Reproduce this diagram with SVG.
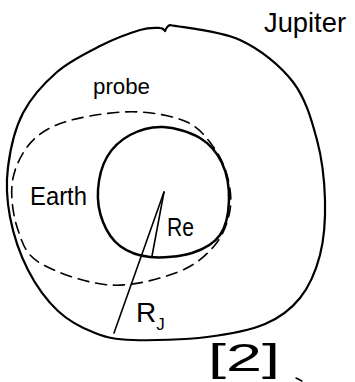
<svg xmlns="http://www.w3.org/2000/svg" width="355" height="382" viewBox="0 0 355 382">
<style>
.ln{fill:none;stroke:#000;stroke-linecap:round;stroke-linejoin:round}
.lbl{font-family:"Liberation Sans",Arial,sans-serif;fill:#000}
</style>
<rect width="355" height="382" fill="#fff"/>
<g id="jupiter">
<path class="ln" stroke-width="2.2" d="M170,25 C181.7,27.5 219.5,30.5 240,40 C260.5,49.5 280.2,65.3 293,82 C305.8,98.7 311.7,120.3 317,140 C322.3,159.7 324.5,180.8 325,200 C325.5,219.2 324.2,238.7 320,255 C315.8,271.3 309.2,286.5 300,298 C290.8,309.5 280.5,317.5 265,324 C249.5,330.5 229,334.3 207,337 C185,339.7 151.7,340.7 133,340 C114.3,339.3 107.5,337.8 95,333 C82.5,328.2 69.2,321.5 58,311 C46.8,300.5 36,285.7 28,270 C20,254.3 13.3,234.2 10,217 C6.7,199.8 5.8,184.3 8,167 C10.2,149.7 14.8,128.8 23,113 C31.2,97.2 44.2,83.2 57,72 C69.8,60.8 86.2,53 100,46 C113.8,39 130,33 140,30 C150,27 155.8,27.8 160,28 Q163,28 165,31 Q167,26 170,25 Z"/>
<text class="lbl" x="264" y="32" font-size="28" textLength="82" lengthAdjust="spacingAndGlyphs">Jupiter</text>
</g>
<g id="orbit">
<path class="ln" stroke-width="1.6" stroke-dasharray="11 7" d="M90,116 C105,113.3 123.8,111 140,112 C156.2,113 175,116.5 187,122 C199,127.5 205.3,136.2 212,145 C218.7,153.8 224,164.2 227,175 C230,185.8 232,198.3 230,210 C228,221.7 223.7,234.7 215,245 C206.3,255.3 195.5,265.3 178,272 C160.5,278.7 133,286.5 110,285 C87,283.5 55.3,272.2 40,263 C24.7,253.8 22.7,243 18,230 C13.3,217 10.8,198.3 12,185 C13.2,171.7 18.7,159.5 25,150 C31.3,140.5 39.2,133.7 50,128 C60.8,122.3 75,118.7 90,116 Z"/>
<text class="lbl" x="93" y="94" font-size="22" textLength="57" lengthAdjust="spacingAndGlyphs">probe</text>
</g>
<g id="earth">
<path class="ln" stroke-width="2.5" d="M163,127 C174.7,127.5 190.2,132 200,138 C209.8,144 217.2,152.7 222,163 C226.8,173.3 229.3,188 229,200 C228.7,212 226.2,226.2 220,235 C213.8,243.8 203.7,249.3 192,253 C180.3,256.7 162,258.2 150,257 C138,255.8 127.8,251.8 120,246 C112.2,240.2 106.7,231.3 103,222 C99.3,212.7 97.3,200.8 98,190 C98.7,179.2 101.7,166.2 107,157 C112.3,147.8 120.7,140 130,135 C139.3,130 151.3,126.5 163,127 Z"/>
<text class="lbl" x="30" y="205" font-size="26" textLength="57" lengthAdjust="spacingAndGlyphs">Earth</text>
</g>
<g id="connectors">
<path class="ln" stroke-width="1.6" d="M164,192 L114,333"/>
<path class="ln" stroke-width="1.6" d="M164,192 L152,256"/>
<path class="ln" stroke-width="1.4" d="M296,378 L302,381"/>
</g>
<g id="labels">
<text class="lbl" x="167" y="236" font-size="25" textLength="27" lengthAdjust="spacingAndGlyphs">Re</text>
<text class="lbl" x="136" y="322" font-size="28">R<tspan font-size="17" dy="8">J</tspan></text>
<text class="lbl" x="208" y="371" font-size="38" textLength="72" lengthAdjust="spacingAndGlyphs">[2]</text>
</g>
</svg>
